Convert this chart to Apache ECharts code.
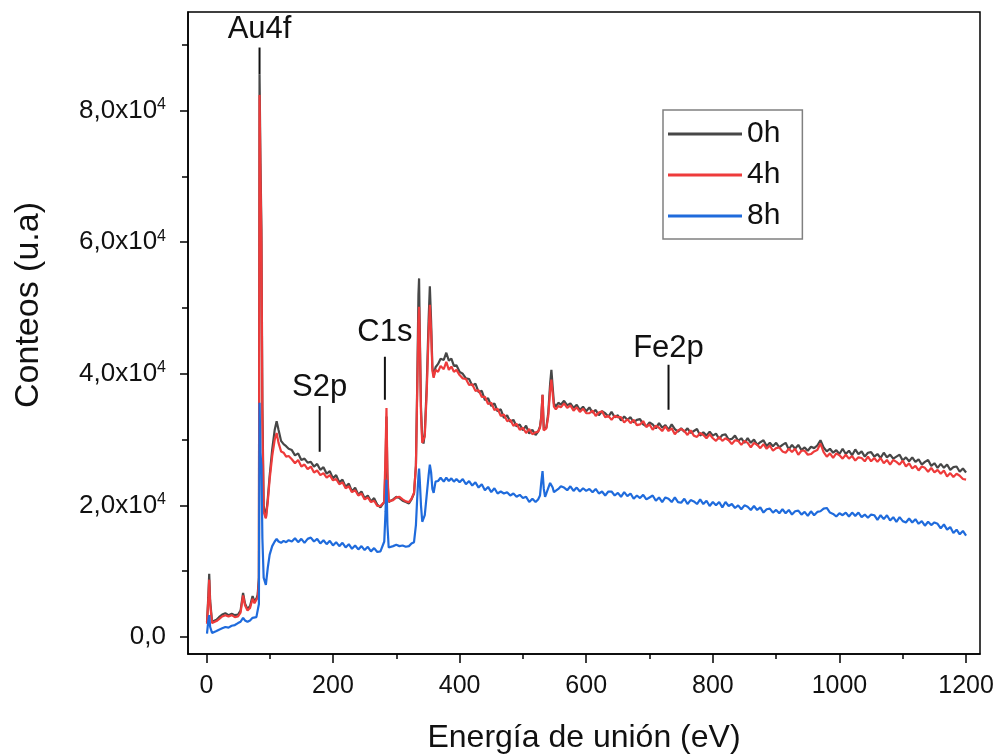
<!DOCTYPE html>
<html><head><meta charset="utf-8">
<script src="https://cdn.jsdelivr.net/npm/echarts@6/dist/echarts.min.js"></script>
<style>html,body{margin:0;padding:0;background:#fff}#c{width:997px;height:755px}</style>
</head><body><div id="c"></div>
<script>
// Binding energy (eV)
const energy = [
  1,3,4.5,6,9,12,16,20,25,30,35,40,45,50,54,58,61,65,69,73,76,79,81,83,84,85.5,87,88.5,90.5,94,97,100,104,108,111,114,118,122,126,130,
  135,140,145,150,155,160,165,170,175,180,185,190,195,200,205,210,215,220,225,230,235,240,245,250,255,260,265,270,275,
  278,281,283,284.5,286,288,291,295,300,305,310,315,320,324,328,331,333,335,336,337,339,341,343,345,348,351,353,355,357,359,362,366,370,375,379,383,387,391,395,
  400,405,410,415,420,425,430,435,440,445,450,455,460,465,470,475,480,485,490,495,500,505,510,515,520,
  524,527,529,531,533,535,537,540,543,545,547,549,552,556,560,
  565,570,575,580,585,590,595,600,
  605,610,615,620,625,630,635,640,645,650,655,660,665,670,675,680,685,690,695,700,
  705,710,715,720,725,730,735,740,745,750,755,760,765,770,775,780,785,790,795,800,
  805,810,815,820,825,830,835,840,845,850,855,860,865,870,875,880,885,890,895,900,
  905,910,915,920,925,930,935,940,945,950,955,960,965,970,975,980,985,990,995,1000,
  1005,1010,1015,1020,1025,1030,1035,1040,1045,1050,1055,1060,1065,1070,1075,1080,1085,1090,1095,1100,
  1105,1110,1115,1120,1125,1130,1135,1140,1145,1150,1155,1160,1165,1170,1175,1180,1185,1190,1195,1200
];
// Counts, 0 h
const counts0h = [
  2200,6000,9600,5500,2300,2200,2600,3000,3400,3600,3300,3500,3300,3400,4000,6700,5100,4200,4700,6200,5400,5800,6400,9000,85500,72000,62000,35000,20000,18100,21000,24500,28500,31500,32800,31500,29800,29300,29000,28600,
  28400,27600,27900,26900,27100,26500,26600,25900,26300,25400,25800,24800,25200,24100,24600,23500,23900,22800,23300,22100,22700,21600,22100,21100,21500,20600,21100,20100,19700,
  20100,20500,26000,33500,24000,20500,20300,20900,21300,21100,20700,20500,20300,20900,21800,26000,38000,52000,54500,47000,35000,30000,29400,31000,38000,48000,53300,48000,41000,39600,41000,41500,42300,42100,43200,42000,42300,41200,41300,
  40300,40000,39300,39200,38200,38500,37200,37400,36000,36300,35100,35500,34300,34600,33300,33700,32700,33000,32000,32300,31400,32100,30900,31500,30700,
  31200,32000,33500,36800,31500,31300,31800,34000,38500,40600,38000,35500,35000,35600,35300,
  35900,35200,35500,34800,35300,34500,35000,34300,
  34900,34100,34500,33700,34300,34000,33500,34200,33400,33700,32900,33500,33000,33400,32600,33000,33100,32300,32000,32600,
  32300,31700,32500,31800,32200,31500,32300,31600,31200,31700,31200,31700,31000,31300,31600,30600,31100,30600,31200,30600,
  30900,30100,30700,30800,30000,30100,30600,29800,30200,29500,30200,29500,30000,29200,29600,29900,29000,29500,29000,29500,
  28800,29200,29500,28500,29200,28600,29200,28400,28800,28300,28900,28700,29100,29900,28800,28200,28600,28000,28400,27800,
  28600,27800,28300,27600,28500,27800,28200,27400,28000,28100,27400,27800,27200,28000,27300,27700,27100,27400,27700,26800,
  27300,26700,27300,26600,27000,26200,26600,26900,26000,26400,25700,26300,25700,26200,25400,25800,25900,25100,25600,25000
];
// Counts, 4 h
const counts4h = [
  2000,5500,8700,5000,2100,2000,2400,2700,3100,3300,3100,3300,3000,3100,3700,6300,4800,4000,4400,5800,5100,5400,6000,8500,82400,70000,60000,33000,19000,18000,20500,24000,27500,30000,31000,29500,28200,28000,27400,27500,
  27000,26400,26900,25900,26200,25500,25900,25000,25300,24600,24900,24200,24600,23800,24000,23200,23500,22600,22900,22000,22300,21500,21800,20900,21200,20500,20700,19900,19900,
  19900,20500,28000,34800,25000,20600,20400,20800,21200,21300,20900,20600,20500,21000,21900,26000,37000,48000,50200,46000,34000,29500,29300,30500,37000,46000,50500,46500,40500,39400,40600,40300,41200,40700,41800,40600,41100,40300,40600,
  39800,39300,39200,38300,38400,37400,37500,36500,36500,35400,35600,34500,34700,33600,33800,32800,33000,32100,32400,31500,31800,31000,31600,30800,31100,
  31200,31800,33300,36800,31400,31200,31700,33500,37500,39100,37000,35000,34600,35100,34900,
  35500,34800,35200,34400,34900,34200,34700,34000,
  34000,34400,33600,34100,34300,33400,33600,33000,33600,33400,33400,32600,33100,32500,33000,32200,32300,32800,31900,32300,
  31500,32100,31800,31300,32000,31300,31700,30800,31400,31600,31300,30700,31400,30600,30400,31000,30700,30200,30800,30200,
  29800,30400,29800,30200,29900,29300,29900,29800,29200,29800,29500,28800,29500,29200,28700,29300,28600,29100,28300,28700,
  28800,28200,28000,28600,28100,28600,27700,28300,28300,27700,27800,28200,28400,29400,28100,27400,27900,27200,27900,27600,
  27100,27700,27100,27500,26800,27300,27200,26700,27400,26700,27200,26600,27200,26400,26900,26200,26900,26600,26200,26800,
  25900,26400,25600,26000,25300,25900,25700,25100,25700,25000,25400,24800,25300,24400,24900,24300,24800,24500,24000,23900
];
// Counts, 8 h
const counts8h = [
  500,2400,3300,1500,600,700,900,1100,1300,1500,1400,1700,1800,2100,2300,2900,2500,2300,2500,2900,2700,3000,3300,5000,35600,28000,26000,15000,9000,7900,10500,12500,13800,14500,14900,14500,14300,14600,14400,14700,
  14500,15000,14400,14900,14300,14900,15100,14500,14900,14200,14700,14100,14600,13900,14400,13800,14300,13600,14100,13400,13900,13300,13800,13200,13700,13000,13500,12900,13000,
  13200,14500,19000,23900,17000,13600,13400,13800,14000,13800,13900,13700,13800,14200,14400,17000,21000,24500,25600,24000,20000,17500,17300,18500,21500,24500,26200,25000,22500,21900,23600,23700,24200,23600,24200,23700,24100,23600,24000,
  23500,24000,23200,23700,23000,23500,22700,23200,22300,22800,22000,22600,21800,22100,21800,22000,21500,21800,21300,21600,21100,21300,20500,21000,20500,
  20900,21500,23500,25200,22500,21300,21800,22600,23400,23600,22700,22000,21900,22500,22900,
  22700,22300,22900,22200,22700,22100,22600,22200,
  22500,22000,22500,21800,22100,21500,22100,22100,21500,21900,21300,22000,21400,21800,21000,21500,21100,21600,20900,21200,
  21500,20700,21200,20500,21200,21000,20500,21200,20500,20400,21000,20200,20800,20600,20200,20900,20200,20700,19900,20500,
  20000,20500,19700,20500,19900,20200,19600,20000,19400,20000,19800,19300,19900,19300,19700,18900,19400,19500,18900,19300,
  18800,19400,18800,19300,18600,19100,19200,18600,19000,18400,19100,18500,19000,19100,19500,19600,18900,18700,18300,18800,
  18500,18900,18300,18900,18400,18900,18200,18600,18100,18600,18500,17800,18500,17900,18500,17700,18200,17500,18200,17600,
  17400,18000,17400,17900,17200,17600,16900,17500,17000,17400,17200,16500,17100,16300,16700,15800,16300,15600,16100,15400
];
const seriesNames = ['0h', '4h', '8h'];
const xMajorTicks = [0, 200, 400, 600, 800, 1000, 1200];
const xMinorTicks = [100, 300, 500, 700, 900, 1100];
const yMajorTicks = [0, 20000, 40000, 60000, 80000];
const yMinorTicks = [10000, 30000, 50000, 70000, 90000];
// Peak annotations
const annLabels = ['Au4f', 'S2p', 'C1s', 'Fe2p'];
const annEnergy = [84, 179, 282, 730];
const annTextY = [92300, 37870, 46240, 43800];
const annLineTop = [89600, 35100, 42590, 41370];
const annLineBottom = [85500, 28140, 36050, 34530];

const FONT = '"Liberation Sans", Arial, sans-serif';
const colors = ['#474747', '#ee3b3b', '#1f6bdc'];
const allCounts = [counts0h, counts4h, counts8h];

const chart = echarts.init(document.getElementById('c'), null, {renderer: 'canvas'});
const axisMin = -29, axisMax = 1222, yMin = -2600, yMax = 95000;

const lineSeries = seriesNames.map((name, k) => ({
  name, type: 'line', xAxisIndex: 0, yAxisIndex: 0,
  data: energy.map((e, i) => [e, allCounts[k][i]]),
  showSymbol: false, symbol: 'none', sampling: null,
  lineStyle: {color: colors[k], width: 2.2}, itemStyle: {color: colors[k]},
  z: 2 + k
}));

const annSeries = {
  type: 'custom', xAxisIndex: 0, yAxisIndex: 0, z: 10, silent: true,
  data: annEnergy.map((e, i) => [e, annTextY[i], annLineTop[i], annLineBottom[i]]),
  renderItem: (params, api) => {
    const x = api.value(0);
    const pt = api.coord([x, api.value(1)]);
    const p1 = api.coord([x, api.value(2)]);
    const p2 = api.coord([x, api.value(3)]);
    return {type: 'group', children: [
      {type: 'line', shape: {x1: p1[0], y1: p1[1], x2: p2[0], y2: p2[1]}, style: {stroke: '#111', lineWidth: 2}},
      {type: 'text', x: pt[0], y: pt[1], style: {text: annLabels[params.dataIndex], fontSize: 31, fontFamily: FONT, fill: '#111', align: 'center', verticalAlign: 'middle'}}
    ]};
  }
};

const yFmt = v => v === 0 ? '{m|0,0}' : '{m|' + (v / 1e4).toFixed(1).replace('.', ',') + 'x10}{s|4}';

chart.setOption({
  animation: false,
  backgroundColor: '#fff',
  grid: {left: 188, right: 17, top: 12, bottom: 101, show: true, borderColor: '#000', borderWidth: 1.5,
    backgroundColor: 'transparent', containLabel: false, outerBoundsMode: 'none'},
  legend: {
    data: seriesNames, orient: 'vertical', left: 663, top: 110,
    icon: 'rect', itemWidth: 74, itemHeight: 3, itemGap: 11,
    padding: [9, 22, 8, 5], borderColor: '#808080', borderWidth: 1.5,
    textStyle: {fontSize: 30, lineHeight: 30, color: '#111', fontFamily: FONT}
  },
  graphic: [{
    type: 'text', left: 12, top: 202, rotation: Math.PI / 2,
    style: {text: 'Conteos (u.a)', fontSize: 34, fontFamily: FONT, fill: '#111'}
  }],
  xAxis: [{
    type: 'value', min: axisMin, max: axisMax, position: 'bottom',
    axisLine: {show: true, onZero: false, lineStyle: {color: '#000', width: 1.5}},
    axisTick: {show: true, length: 9, customValues: xMajorTicks, lineStyle: {color: '#000', width: 1.5}},
    axisLabel: {customValues: xMajorTicks, margin: 20, fontSize: 25, color: '#111', fontFamily: FONT, formatter: v => String(v)},
    splitLine: {show: false},
    name: 'Energía de unión (eV)', nameLocation: 'middle', nameGap: 68,
    nameTextStyle: {fontSize: 32, color: '#111', fontFamily: FONT}
  }, {
    type: 'value', min: axisMin, max: axisMax, position: 'bottom',
    axisLine: {show: false, onZero: false},
    axisTick: {show: true, length: 5, customValues: xMinorTicks, lineStyle: {color: '#000', width: 1.5}},
    axisLabel: {show: false}, splitLine: {show: false}
  }],
  yAxis: [{
    type: 'value', min: yMin, max: yMax, position: 'left',
    axisLine: {show: true, onZero: false, lineStyle: {color: '#000', width: 1.5}},
    axisTick: {show: true, length: 8, customValues: yMajorTicks, lineStyle: {color: '#000', width: 1.5}},
    axisLabel: {customValues: yMajorTicks, margin: 22, formatter: yFmt,
      rich: {m: {fontSize: 26, color: '#111', fontFamily: FONT}, s: {fontSize: 16, color: '#111', fontFamily: FONT, verticalAlign: 'top', padding: [0, 0, 12, 0]}}},
    splitLine: {show: false}
  }, {
    type: 'value', min: yMin, max: yMax, position: 'left',
    axisLine: {show: false, onZero: false},
    axisTick: {show: true, length: 6, customValues: yMinorTicks, lineStyle: {color: '#000', width: 1.5}},
    axisLabel: {show: false}, splitLine: {show: false}
  }],
  series: [...lineSeries, annSeries]
});
</script></body></html>
